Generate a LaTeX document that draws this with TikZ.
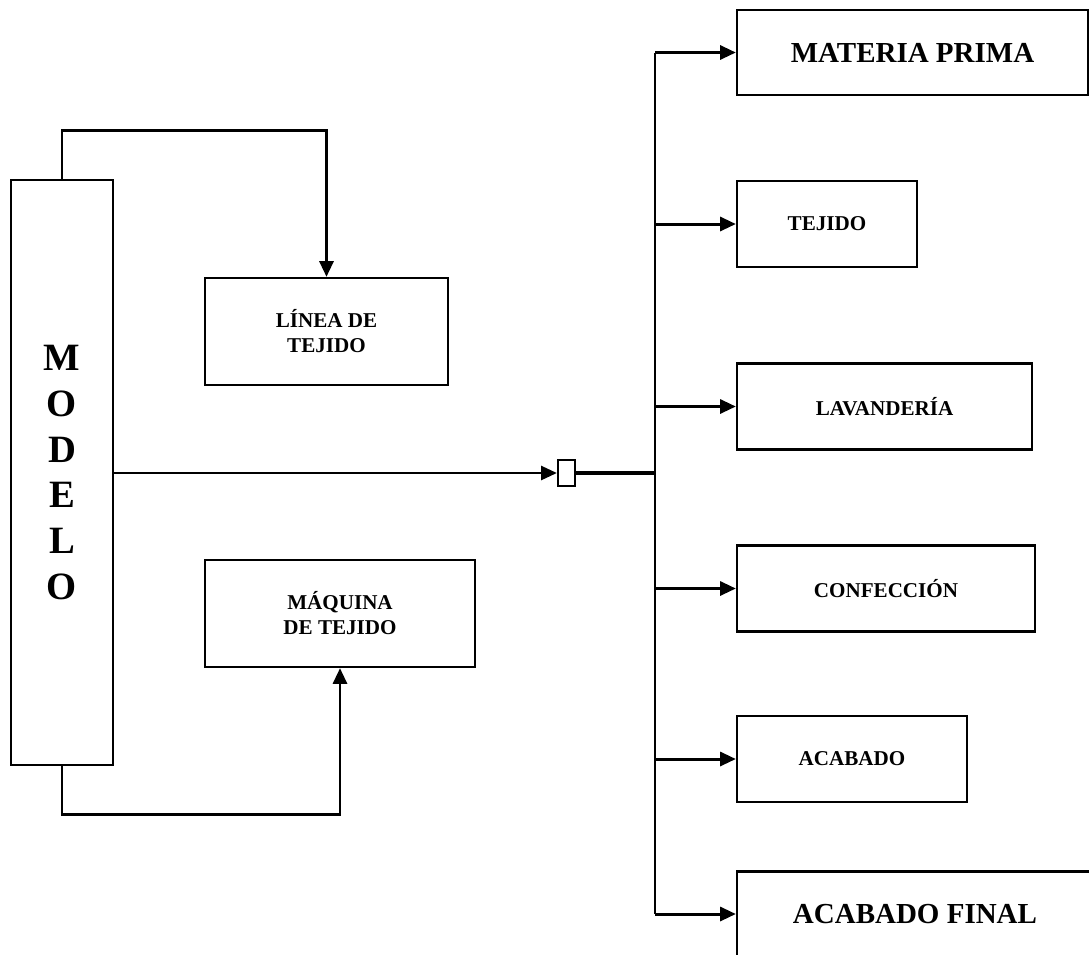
\documentclass[tikz,border=0pt]{standalone}
\usepackage{fontspec}
\setmainfont{Liberation Serif}
\usetikzlibrary{arrows.meta}
\tikzset{box/.style={draw, inner sep=2pt, align=center, minimum height=1.72cm,
    font=\bfseries\fontsize{12}{14.2}\selectfont},
  bigbox/.style={box, minimum height=1.7cm, font=\bfseries\fontsize{16.5}{19}\selectfont},
  link/.style={line width=1.7pt, -{Triangle[length=9pt,width=8pt]}}}

\begin{document}
\begin{tikzpicture}[line width=1.3pt]
   \clip (0,0) rectangle (21.78,-19.1);
   % left part: the model and its two inputs
   \node[draw, minimum width=2.04cm, minimum height=11.7cm, align=center,
     font=\bfseries\fontsize{22}{26}\selectfont] (modelo) at (1.24,-9.45) {M\\O\\D\\E\\L\\O};
   \node[box, minimum width=4.86cm, minimum height=2.14cm] (linea) at (6.53,-6.63) {LÍNEA DE\\TEJIDO};
   \node[box, minimum width=5.4cm, minimum height=2.14cm] (maquina) at (6.8,-12.27) {MÁQUINA\\DE TEJIDO};
   \draw[link] (modelo.north) -- ++(0,0.96) -| (linea.north);
   \draw[link] (modelo.south) -- ++(0,-0.96) -| (maquina.south);
   % junction and the bus on the right
   \node[draw, minimum width=0.34cm, minimum height=0.52cm, inner sep=0pt] (nudo) at (11.33,-9.46) {};
   \draw[link, line width=1.4pt] (modelo.east |- nudo.west) -- (nudo.west);
   \coordinate (bus) at (13.1,-9.46);
   \draw[line width=2.5pt] (nudo.east) -- (bus);
   % the stages
   \node[bigbox, minimum width=7.02cm] (materia) at (18.25,-1.05) {MATERIA PRIMA};
   \node[box, minimum width=3.6cm] (tejido) at (16.54,-4.48) {TEJIDO};
   \node[box, minimum width=5.9cm] (lavanderia) at (17.69,-8.13) {LAVANDERÍA};
   \node[box, minimum width=5.96cm] (confeccion) at (17.72,-11.77) {CONFECCIÓN};
   \node[box, minimum width=4.6cm] (acabado) at (17.04,-15.18) {ACABADO};
   \node[bigbox, minimum width=7.12cm] (final) at (18.3,-18.28) {ACABADO FINAL};
   \coordinate (bustop) at (bus |- materia.west);
   \coordinate (busbot) at (bus |- final.west);
   \draw[line width=1.7pt] (bustop) -- (busbot);
   \foreach \stage in {materia,tejido,lavanderia,confeccion,acabado,final}
     \draw[link] (bus |- \stage.west) -- (\stage.west);
\end{tikzpicture}
\end{document}
